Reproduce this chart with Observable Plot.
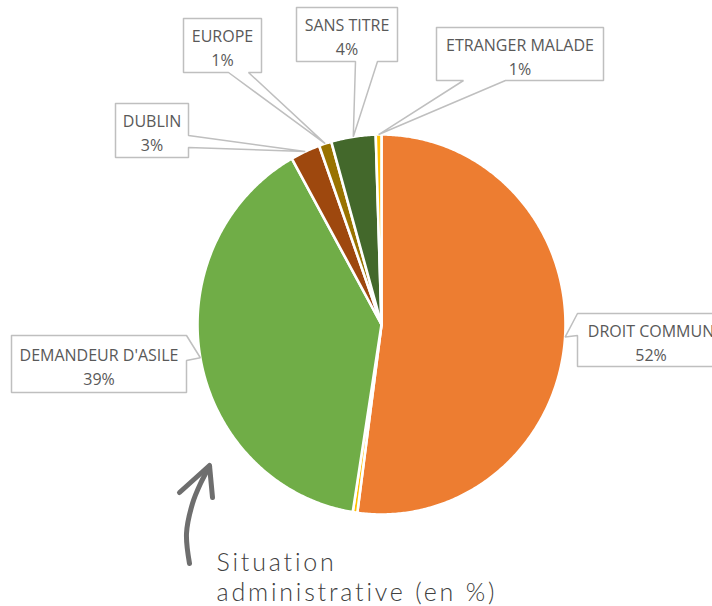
<!DOCTYPE html>
<html>
<head>
<meta charset="utf-8">
<script src="https://cdn.jsdelivr.net/npm/d3@7"></script>
<script src="https://cdn.jsdelivr.net/npm/@observablehq/plot@0.6"></script>
<style>
  html, body { margin: 0; padding: 0; background: #fff; }
  #chart { width: 712px; height: 606px; overflow: hidden; }
</style>
</head>
<body>
<div id="chart"></div>
<script>
// ---- data ----
const categories = ["DROIT COMMUN", "AUTRE", "DEMANDEUR D'ASILE", "DUBLIN", "EUROPE", "SANS TITRE", "ETRANGER MALADE"];
const values = [52.1, 0.4, 39.4, 2.6, 1.1, 3.9, 0.5];
const colors = ["#ED7D31", "#FFC000", "#70AD47", "#9E480E", "#997300", "#43682B", "#FFC000"];
const labelled = [true, false, true, true, true, true, true];
const captionLines = ["Situation", "administrative (en %)"];

// ---- layout (pixels) ----
const pie = {cx: 381, cy: 324, rx: 184, ry: 190};
const labelBoxes = {
  "DROIT COMMUN":      {box: [577, 313, 724, 366], side: "left",   base: [313, 335]},
  "DEMANDEUR D'ASILE": {box: [11, 335, 186, 392],  side: "right",  base: [335, 360]},
  "DUBLIN":            {box: [115, 103, 188, 157], side: "right",  base: [135, 147]},
  "EUROPE":            {box: [183, 18, 261, 72],   side: "bottom", base: [228, 248]},
  "SANS TITRE":        {box: [296, 7, 397, 61],    side: "bottom", base: [355, 377]},
  "ETRANGER MALADE":   {box: [436, 27, 603, 80],   side: "bottom", base: [463, 505]}
};
const arrowShaft = [[189, 563], [186, 533], [192, 503], [200, 483], [209, 466]];
const arrowHead = [[179, 492], [209, 465], [212, 497]];

// ---- build slices ----
const total = d3.sum(values);
let acc = 0;
const slices = categories.map((name, i) => {
  const a0 = acc / total * 2 * Math.PI;
  acc += values[i];
  const a1 = acc / total * 2 * Math.PI;
  return {name, value: values[i], color: colors[i], a0, a1, mid: (a0 + a1) / 2, labelled: labelled[i]};
});
const pt = (a, k = 1) => [pie.cx + k * pie.rx * Math.sin(a), pie.cy - k * pie.ry * Math.cos(a)];

const piePts = [];
slices.forEach(s => {
  const n = Math.max(2, Math.ceil((s.a1 - s.a0) / (Math.PI / 360)));
  piePts.push({name: s.name, color: s.color, x: pie.cx, y: pie.cy});
  for (let j = 0; j <= n; j++) {
    const [x, y] = pt(s.a0 + (s.a1 - s.a0) * j / n);
    piePts.push({name: s.name, color: s.color, x, y});
  }
  piePts.push({name: s.name, color: s.color, x: pie.cx, y: pie.cy});
});

// ---- callouts ----
const calloutPts = [];
const labelTexts = [];
slices.filter(s => s.labelled).forEach(s => {
  const L = labelBoxes[s.name];
  const [x0, y0, x1, y1] = L.box;
  const [tx, ty] = pt(s.mid, 1.0);
  let poly;
  if (L.side === "bottom") {
    poly = [[x0, y0], [x1, y0], [x1, y1], [L.base[1], y1], [tx, ty], [L.base[0], y1], [x0, y1], [x0, y0]];
  } else if (L.side === "right") {
    poly = [[x0, y0], [x1, y0], [x1, L.base[0]], [tx, ty], [x1, L.base[1]], [x1, y1], [x0, y1], [x0, y0]];
  } else {
    poly = [[x0, y0], [x1, y0], [x1, y1], [x0, y1], [x0, L.base[1]], [tx, ty], [x0, L.base[0]], [x0, y0]];
  }
  poly.forEach(([x, y]) => calloutPts.push({name: s.name, x, y}));
  labelTexts.push({x: (x0 + x1) / 2, y: (y0 + y1) / 2 + 1, text: s.name + "\n" + Math.round(s.value / total * 100) + "%"});
});

const chart = Plot.plot({
  width: 712,
  height: 606,
  margin: 0,
  x: {domain: [0, 712], range: [0, 712], axis: null},
  y: {domain: [0, 606], range: [0, 606], axis: null},
  color: {type: "identity"},
  style: {background: "#fff"},
  marks: [
    Plot.line(piePts, {x: "x", y: "y", z: "name", fill: "color", stroke: "#fff", strokeWidth: 2.6, strokeLinejoin: "round", curve: "linear"}),
    Plot.line(calloutPts, {x: "x", y: "y", z: "name", fill: "#fff", stroke: "#BFBFBF", strokeWidth: 1.5, strokeLinejoin: "miter", curve: "linear"}),
    Plot.text(labelTexts, {x: "x", y: "y", text: "text", fill: "#595959", fontSize: 16, fontFamily: "Open Sans", lineHeight: 1.5}),
    Plot.line(arrowShaft, {x: d => d[0], y: d => d[1], stroke: "#6E6E6E", strokeWidth: 5, strokeLinecap: "round", curve: "catmull-rom"}),
    Plot.line(arrowHead, {x: d => d[0], y: d => d[1], stroke: "#6E6E6E", strokeWidth: 5, strokeLinecap: "round", strokeLinejoin: "round"}),
    Plot.text(captionLines.map((t, i) => ({t, x: 216, y: 570 + i * 30})), {x: "x", y: "y", text: "t", textAnchor: "start", lineAnchor: "bottom", fill: "#404040", fontSize: 25, fontFamily: "Lato", fontWeight: 300})
  ]
});
chart.querySelectorAll("text").forEach(t => {
  if (captionLines.includes(t.textContent)) t.setAttribute("letter-spacing", "2.8");
});
document.getElementById("chart").appendChild(chart);
</script>
</body>
</html>
